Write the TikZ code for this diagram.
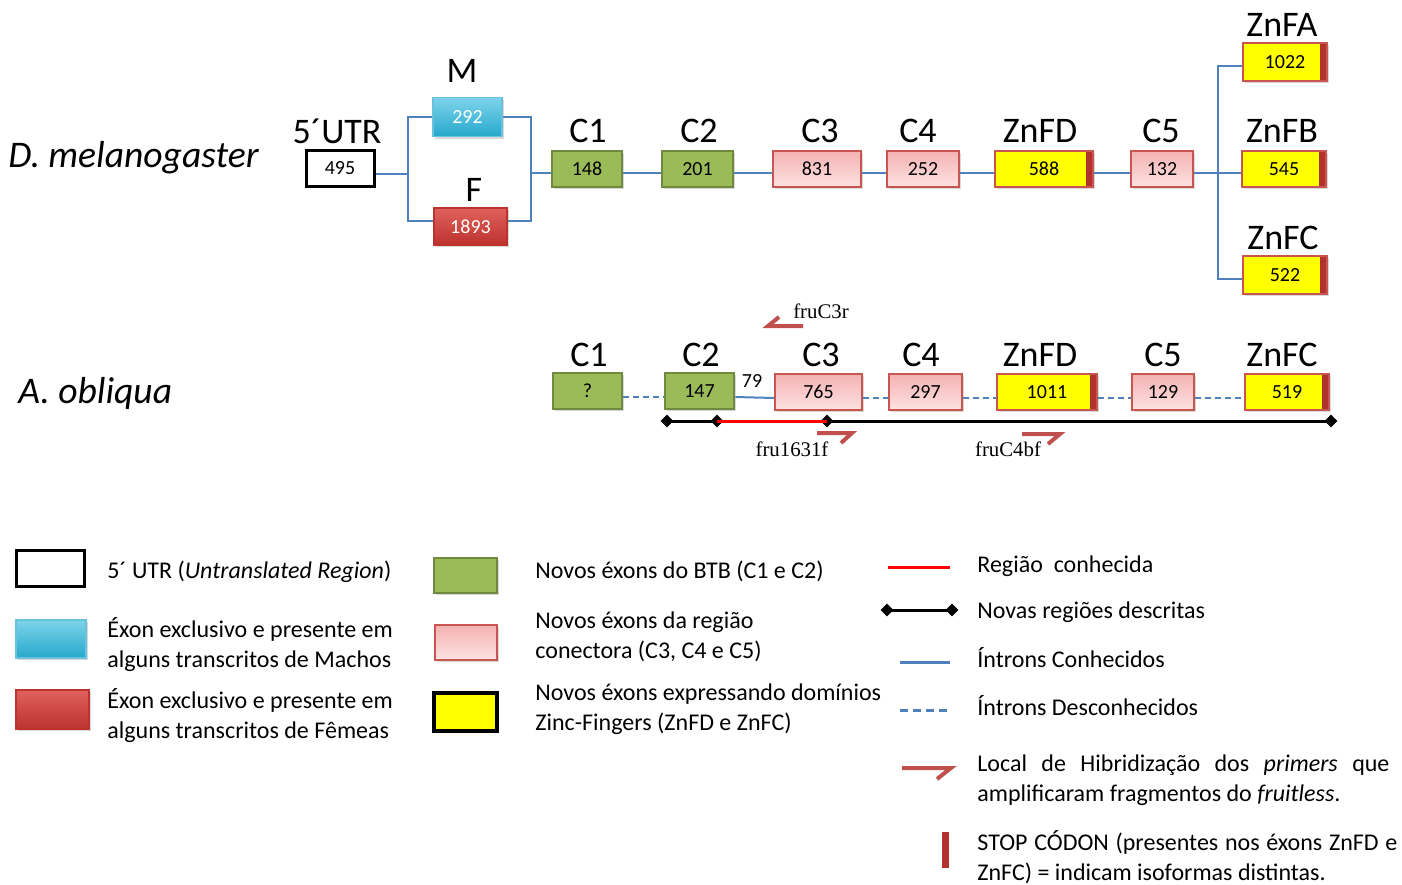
\documentclass[tikz,border=0pt]{standalone}
\usepackage{fontspec}
\setmainfont{Carlito}
\newfontfamily\primerfont{Liberation Serif}
\usetikzlibrary{shadows,shapes.geometric}
\definecolor{maletop}{RGB}{125,212,234}
\definecolor{maleexon}{RGB}{38,168,204}
\definecolor{femaletop}{RGB}{224,98,92}
\definecolor{femaleexon}{RGB}{188,50,46}
\definecolor{btbexon}{RGB}{155,187,89}
\definecolor{btbborder}{RGB}{113,137,63}
\definecolor{conntop}{RGB}{244,178,178}
\definecolor{connbottom}{RGB}{253,226,226}
\definecolor{connborder}{RGB}{200,85,80}
\definecolor{zincexon}{RGB}{255,255,0}
\definecolor{stopcodon}{RGB}{178,50,46}
\definecolor{intron}{RGB}{79,129,189}
\definecolor{primer}{RGB}{192,80,77}
\definecolor{knownregion}{RGB}{255,0,0}
\tikzstyle{exon} = [draw, line width=0.9pt, inner sep=0pt, minimum height=18pt, font=\fontsize{10}{12}\selectfont, drop shadow={opacity=0.3, shadow xshift=1.2pt, shadow yshift=-1.2pt}]
\tikzstyle{utr} = [exon, fill=white, draw=black, line width=1.5pt]
\tikzstyle{male} = [exon, draw=maleexon!70!white, top color=maletop, bottom color=maleexon, text=white]
\tikzstyle{female} = [exon, draw=femaleexon, top color=femaletop, bottom color=femaleexon, text=white]
\tikzstyle{btb} = [exon, fill=btbexon, draw=btbborder, line width=1.3pt]
\tikzstyle{conn} = [exon, top color=conntop, bottom color=connbottom, draw=connborder]
\tikzstyle{zinc} = [exon, fill=zincexon, draw=connborder, path picture={\fill[stopcodon] ([xshift=-3.5pt]path picture bounding box.north east) rectangle (path picture bounding box.south east);}]
\tikzstyle{exlabel} = [font=\fontsize{18}{20}\selectfont, inner sep=0pt]
\tikzstyle{species} = [font=\fontsize{18.8}{20}\selectfont\itshape, anchor=west, inner sep=0pt]
\tikzstyle{known} = [intron, line width=1pt]
\tikzstyle{unknown} = [intron, line width=1pt, dash pattern=on 3pt off 2pt]
\tikzstyle{newregion} = [black, line width=1.5pt]
\tikzstyle{oldregion} = [knownregion, line width=1.5pt]
\tikzstyle{site} = [diamond, fill=black, inner sep=0pt, minimum size=6.5pt]
\tikzstyle{primerarrow} = [primer, line width=2pt]
\tikzstyle{primerlabel} = [font=\primerfont\fontsize{10.4}{12}\selectfont, inner sep=0pt]
\tikzstyle{legendtext} = [font=\fontsize{12}{15}\selectfont, anchor=west, inner sep=0pt, align=left]
\tikzstyle{legendpara} = [font=\fontsize{12}{15}\selectfont, anchor=west, inner sep=0pt, text width=206pt, align=justify]

\begin{document}
\begin{tikzpicture}[x=0.5pt, y=-0.5pt]
\useasboundingbox (0,0) rectangle (1402,884);

\node[species] (mName) at (8,158) {D. melanogaster};
\node[utr, minimum width=34pt] (mUTR) at (340,168) {495};
\node[exlabel] (mUTR-t) at (337,131) {5´UTR};
\node[male, minimum width=34.5pt, minimum height=19.5pt] (mM) at (467.5,117) {292};
\node[exlabel] (mM-t) at (462,71) {M};
\node[female, minimum width=36.5pt, minimum height=18.5pt] (mF) at (470.5,226.5) {1893};
\node[exlabel] (mF-t) at (474,190) {F};
\node[btb, minimum width=35pt] (mC1) at (587,169) {148};
\node[exlabel] (mC1-t) at (588,131) {C1};
\node[btb, minimum width=35.5pt] (mC2) at (697.5,169) {201};
\node[exlabel] (mC2-t) at (699,131) {C2};
\node[conn, minimum width=44pt] (mC3) at (817,169) {831};
\node[exlabel] (mC3-t) at (820,131) {C3};
\node[conn, minimum width=36pt] (mC4) at (923,169) {252};
\node[exlabel] (mC4-t) at (918,131) {C4};
\node[zinc, minimum width=49pt] (mZnFD) at (1044,169) {588};
\node[exlabel] (mZnFD-t) at (1040,131) {ZnFD};
\node[conn, minimum width=31pt] (mC5) at (1162,169) {132};
\node[exlabel] (mC5-t) at (1161,131) {C5};
\node[zinc, minimum width=42pt, minimum height=19pt] (mZnFA) at (1285,62) {1022};
\node[exlabel] (mZnFA-t) at (1282,25) {ZnFA};
\node[zinc, minimum width=42pt] (mZnFB) at (1284,169) {545};
\node[exlabel] (mZnFB-t) at (1282,131) {ZnFB};
\node[zinc, minimum width=42pt, minimum height=19pt] (mZnFC) at (1285,275) {522};
\node[exlabel] (mZnFC-t) at (1283,238) {ZnFC};

\coordinate (mSplit) at (408,174);
\coordinate (mJoin) at (531,173);
\coordinate (mZinc) at (1218,173);
\draw[known] ([yshift=-3pt]mUTR.east) -- (mSplit);
\draw[known] (mM.west) -| (mSplit) |- ([yshift=3pt]mF.west);
\draw[known] (mM.east) -| (mJoin) |- ([yshift=3pt]mF.east);
\draw[known] (mJoin) -- ([yshift=-2pt]mC1.west);
\foreach \a/\b in {mC1/mC2, mC2/mC3, mC3/mC4, mC4/mZnFD, mZnFD/mC5}
    \draw[known] ([yshift=-2pt]\a.east) -- ([yshift=-2pt]\b.west);
\draw[known] ([yshift=-2pt]mC5.east) -- (mZinc);
\draw[known] ([yshift=-2pt]mZnFA.west) -| (mZinc) |- ([yshift=-2pt]mZnFC.west);
\draw[known] (mZinc) -- ([yshift=-2pt]mZnFB.west);

\node[species] (oName) at (18,393) {A. obliqua};
\node[btb, minimum width=34.5pt] (oC1) at (587.5,391) {?};
\node[exlabel] (oC1-t) at (589,355) {C1};
\node[btb, minimum width=34.5pt] (oC2) at (699.5,391) {147};
\node[exlabel] (oC2-t) at (701,355) {C2};
\node[conn, minimum width=43.5pt] (oC3) at (818.5,392) {765};
\node[exlabel] (oC3-t) at (821,355) {C3};
\node[conn, minimum width=36.5pt] (oC4) at (925.5,392) {297};
\node[exlabel] (oC4-t) at (921,355) {C4};
\node[zinc, minimum width=50pt] (oZnFD) at (1047,392) {1011};
\node[exlabel] (oZnFD-t) at (1040,355) {ZnFD};
\node[conn, minimum width=31pt] (oC5) at (1163,392) {129};
\node[exlabel] (oC5-t) at (1163,355) {C5};
\node[zinc, minimum width=42pt] (oZnFC) at (1287,392) {519};
\node[exlabel] (oZnFC-t) at (1282,355) {ZnFC};
\node[font=\fontsize{10}{12}\selectfont, inner sep=0pt] (o79) at (752,381) {79};

\foreach \a/\b in {oC1/oC2, oC3/oC4, oC4/oZnFD, oZnFD/oC5, oC5/oZnFC}
    \draw[unknown] ([yshift=-3pt]\a.east) -- ([yshift=-3pt]\b.west);
\draw[known] ([yshift=-3pt]oC2.east) -- ([yshift=-3pt]oC3.west);

\node[site] (s1) at (667,421) {};
\node[site] (s2) at (717,421) {};
\node[site] (s3) at (827,421) {};
\node[site] (s4) at (1331,421) {};
\draw[newregion] (s1.center) -- (s2.center);
\draw[oldregion] (s2.center) -- (s3.center);
\draw[newregion] (s3.center) -- (s4.center);

\draw[primerarrow] (803,326) -- (768,326) -- (779,317);
\node[primerlabel] (pC3r) at (821,311) {fruC3r};
\draw[primerarrow] (817,433) -- (852,433) -- (841,443);
\node[primerlabel] (p1631f) at (792,449) {fru1631f};
\draw[primerarrow] (1022,434) -- (1060,434) -- (1048,444);
\node[primerlabel] (pC4bf) at (1008,449) {fruC4bf};

\node[utr, minimum width=34pt, drop shadow={opacity=0}] (kUTR) at (50,568) {};
\node[legendtext] (kUTR-t) at (107,572) {5´ UTR (\textit{Untranslated Region})};
\node[male, minimum width=35pt, minimum height=19pt] (kMale) at (51,639) {};
\node[legendtext] (kMale-t) at (107,645) {Éxon exclusivo e presente em\\alguns transcritos de Machos};
\node[female, minimum width=36.5pt, minimum height=19.5pt] (kFemale) at (52.5,709.5) {};
\node[legendtext] (kFemale-t) at (107,716) {Éxon exclusivo e presente em\\alguns transcritos de Fêmeas};

\node[btb, minimum width=31.5pt, minimum height=17.5pt] (kBTB) at (465.5,575.5) {};
\node[legendtext] (kBTB-t) at (535,571) {Novos éxons do BTB (C1 e C2)};
\node[conn, minimum width=31pt, minimum height=17.5pt] (kConn) at (466,642.5) {};
\node[legendtext] (kConn-t) at (535,637) {Novos éxons da região\\conectora (C3, C4 e C5)};
\node[exon, fill=zincexon, draw=black, line width=1.6pt, minimum width=31.5pt, minimum height=19pt, drop shadow={opacity=0}] (kZinc) at (465.5,712) {};
\node[legendtext] (kZinc-t) at (535,709) {Novos éxons expressando domínios\\Zinc-Fingers (ZnFD e ZnFC)};

\coordinate (kOldA) at (888,567);
\coordinate (kOldB) at (950,567);
\draw[oldregion] (kOldA) -- (kOldB);
\node[legendtext] (kOld-t) at (977,566) {Região\ \ conhecida};
\node[site] (kNewA) at (887,610) {};
\node[site] (kNewB) at (952,610) {};
\draw[newregion] (kNewA.center) -- (kNewB.center);
\node[legendtext] (kNew-t) at (977,612) {Novas regiões descritas};
\coordinate (kKnownA) at (900,662);
\coordinate (kKnownB) at (950,662);
\draw[known, line width=1.5pt] (kKnownA) -- (kKnownB);
\node[legendtext] (kKnown-t) at (977,658) {Íntrons Conhecidos};
\coordinate (kUnknownA) at (900,710);
\coordinate (kUnknownB) at (950,710);
\draw[unknown, line width=1.5pt, dash pattern=on 4pt off 2.5pt] (kUnknownA) -- (kUnknownB);
\node[legendtext] (kUnknown-t) at (977,706) {Íntrons Desconhecidos};
\draw[primerarrow] (902,768) -- (951,768) -- (937,779);
\node[legendpara] (kPrimer-t) at (977,780) {Local de Hibridização dos \textit{primers} que\linebreak amplificaram fragmentos do \textit{fruitless}.};
\fill[stopcodon] (942,832) rectangle (949,868);
\node[legendpara, text width=210pt] (kStop-t) at (977,857) {STOP CÓDON (presentes nos éxons ZnFD e\linebreak ZnFC) = indicam isoformas distintas.};
\end{tikzpicture}
\end{document}
